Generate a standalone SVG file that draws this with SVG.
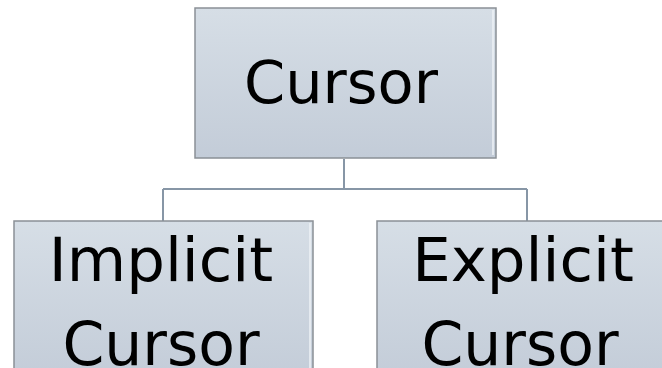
<svg xmlns="http://www.w3.org/2000/svg" width="662" height="368" viewBox="0 0 662 368">
<defs>
<linearGradient id="g" x1="0" y1="0" x2="0" y2="1">
<stop offset="0" stop-color="#D6DEE6"/>
<stop offset="1" stop-color="#C3CCD8"/>
</linearGradient>
<style>
.box{fill:url(#g);stroke:#8A9096;stroke-width:1.5}
.hl{stroke:#EEF2F6;stroke-width:1.5;fill:none}
.t{font-family:"DejaVu Sans",Verdana,sans-serif;fill:#000;text-anchor:middle}
.c{fill:none;stroke:#8796A6;stroke-width:2}
</style>
</defs>
<rect width="662" height="368" fill="#fff"/>
<g id="connectors">
<path class="c" d="M344,159 V189 M163,189 H527 M163,189 V221 M527,189 V221"/>
</g>
<g id="cursor">
<rect class="box" x="195" y="8" width="301" height="150"/>
<line class="hl" x1="493" y1="10" x2="493" y2="155"/>
<text class="t" x="341" y="103" font-size="59">Cursor</text>
</g>
<g id="implicit">
<rect class="box" x="14" y="221" width="299" height="160"/>
<line class="hl" x1="310" y1="223" x2="310" y2="368"/>
<text class="t" x="161" y="281" font-size="61">Implicit</text>
<text class="t" x="161" y="365" font-size="60">Cursor</text>
</g>
<g id="explicit">
<rect class="box" x="377" y="221" width="300" height="160"/>
<text class="t" x="523" y="281" font-size="61">Explicit</text>
<text class="t" x="520" y="365" font-size="60">Cursor</text>
</g>
</svg>
